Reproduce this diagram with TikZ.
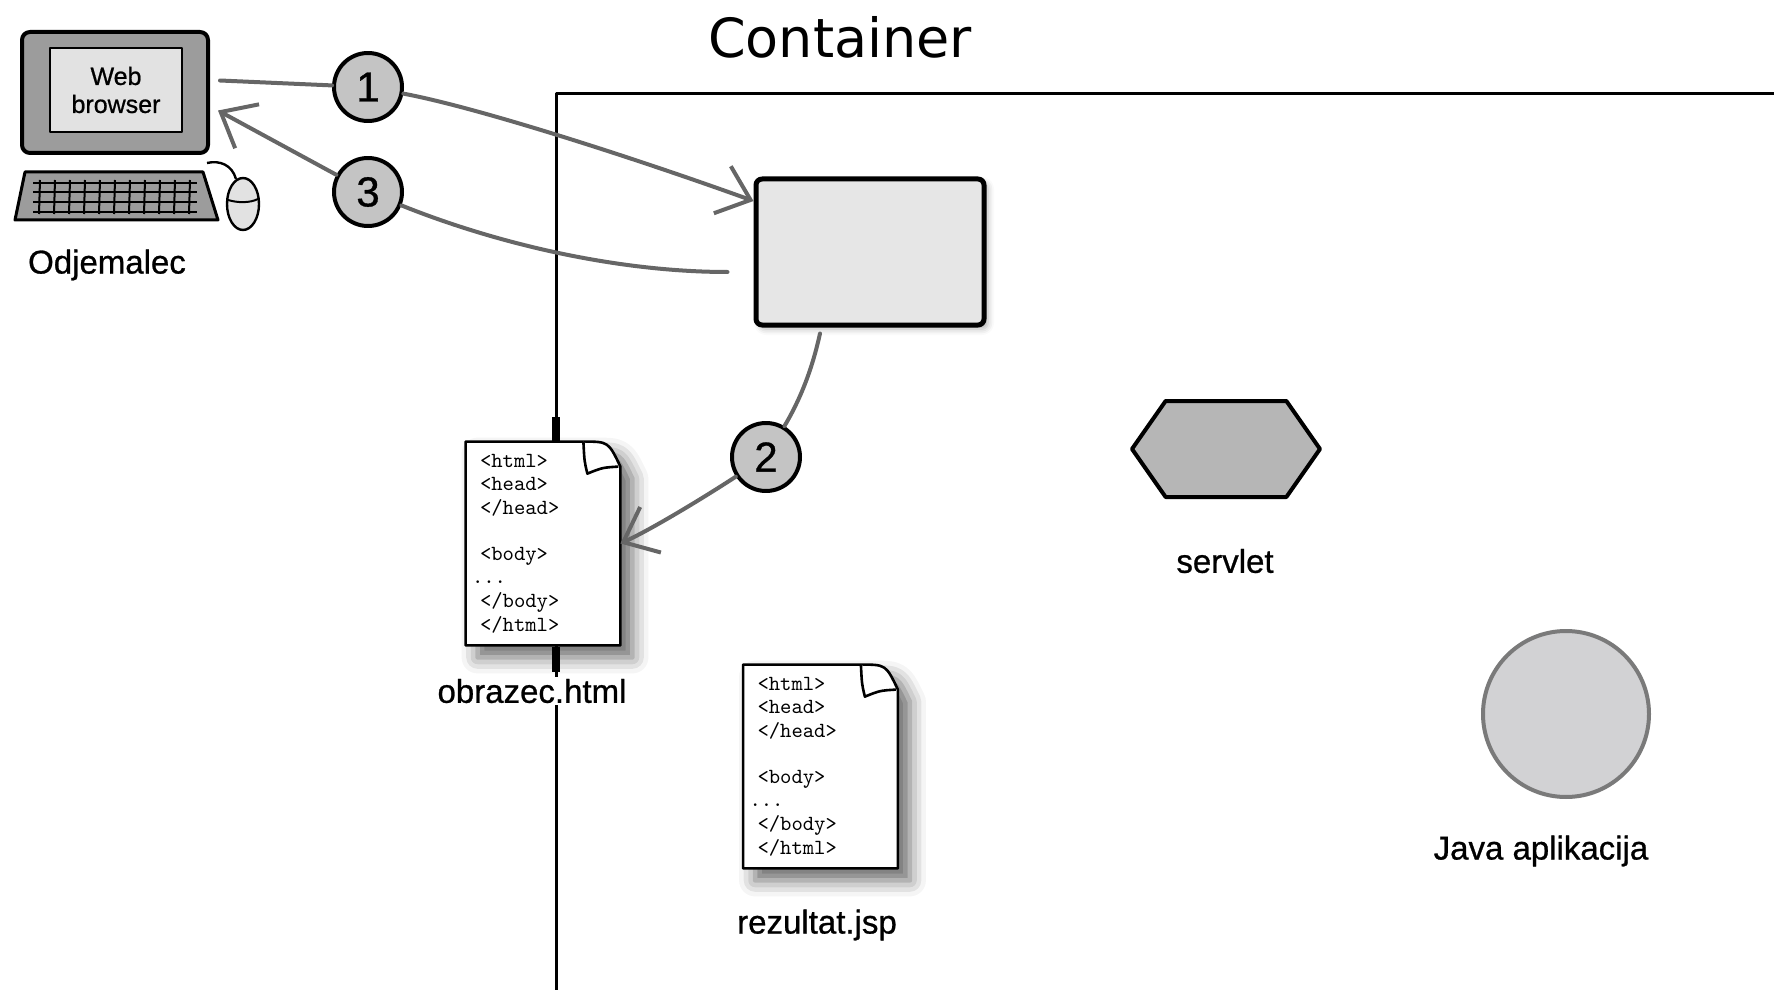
\documentclass[tikz,border=0pt]{standalone}
\usepackage{fontspec}
\setmainfont{Liberation Sans}[FakeBold=0.8]
\newfontfamily\titlefont{DejaVu Sans}
\usetikzlibrary{arrows.meta,shapes.symbols,shadows.blur}

\definecolor{linegray}{HTML}{666666}
\definecolor{framegray}{HTML}{9C9C9C}
\definecolor{screengray}{HTML}{E2E2E2}
\definecolor{numgray}{HTML}{C4C4C4}
\definecolor{boxgray}{HTML}{E6E6E6}
\definecolor{servgray}{HTML}{B6B6B6}
\definecolor{javagray}{HTML}{D2D2D4}
\definecolor{javaedge}{HTML}{7A7A7A}

\tikzset{
  conn/.style={draw=linegray, line width=2pt, line cap=round},
  tip/.style={-{Straight Barb[length=15pt,width=25pt]}},
  num/.style={circle, draw, line width=2pt, fill=numgray, minimum size=34pt, inner sep=0pt, font=\fontsize{21}{21}\selectfont},
  lbl/.style={fill=white, inner sep=1pt, font=\fontsize{16.5}{19}\selectfont},
  docshape/.style={minimum width=77pt, minimum height=101.5pt, inner sep=0pt},
  doctext/.style={text width=63pt, inner xsep=7pt, inner ysep=0pt, align=left, font=\ttfamily\fontsize{10.8}{11.85}\selectfont},
  docline/.style={draw, line width=1.3pt, fill=white},
  softshadow/.style={blur shadow={shadow xshift=6pt, shadow yshift=-6pt, shadow blur radius=8pt, shadow opacity=60}}
}

\newcommand{\htmllines}{<html>\\<head>\\</head>\\[11pt]<body>\\\hspace*{-4pt}...\\</body>\\</html>}

\begin{document}
\begin{tikzpicture}[x=0.5pt, y=-0.5pt, line join=round]
\useasboundingbox (0,0) rectangle (1774,990);

% container border
\draw[line width=1.5pt] (1774,94) -- (556,94) -- (556,990);
\draw[line width=4pt] (556,417) -- (556,442) (556,647) -- (556,672);
\node[font=\titlefont\fontsize{27}{30}\selectfont] (title) at (840,37) {Container};

% client computer
\node[draw, line width=2pt, fill=framegray, rounded corners=4pt, minimum width=93pt, minimum height=60.5pt] (mon) at (115,92.5) {};
\node[draw, line width=1pt, fill=screengray, minimum width=66pt, minimum height=42pt, inner sep=0pt, align=center, font=\fontsize{12.5}{14}\selectfont] (scr) at (116,90) {Web\\browser};
\draw[line width=1.5pt, fill=framegray] (25,172) -- (203,172) -- (218,220) -- (15,220) -- cycle;
\foreach \ky in {183,192,202,212}
  \draw[line width=1pt] (33,\ky) -- (197,\ky);
\foreach \kx in {40,55,...,190}
  \draw[line width=1pt] (\kx,180) -- (\kx-1,214);
\draw[line width=1.2pt] (236,179) .. controls (232,165) and (220,160) .. (207,163);
\draw[line width=1.2pt, fill=screengray] (243,204) ellipse [x radius=16, y radius=26];
\draw[line width=1pt] (228,200) .. controls (238,203) and (250,203) .. (258,199);
\node[lbl] (client) at (107,265) {Odjemalec};

% steps
\node[num] (c1) at (368,87) {1};
\node[num] (c3) at (368,192) {3};
\node[num] (c2) at (766,457) {2};

% web container box
\node[draw, line width=2.5pt, fill=boxgray, rounded corners=3pt, minimum width=114pt, minimum height=73pt,
  blur shadow={shadow xshift=2pt, shadow yshift=-2pt, shadow blur radius=3pt, shadow opacity=30}] (box) at (870,252) {};

% html pages
\foreach \n/\cx/\cy/\name/\lx/\ly in {html/543/543.5/obrazec.html/532/691, jsp/820.5/766.5/rezultat.jsp/817/925} {
  \node[docshape] (\n) at (\cx,\cy) {};
  \draw[docline, softshadow] (\n.north west) -- ([xshift=-18.5pt]\n.north east)
    .. controls ([xshift=-6pt]\n.north east) .. ([yshift=-12.5pt]\n.north east)
    -- (\n.south east) -- (\n.south west) -- cycle;
  \draw[line width=1.3pt, fill=white] ([xshift=-18.5pt]\n.north east)
    .. controls ([xshift=-18pt,yshift=-10pt]\n.north east) .. ([xshift=-16.5pt,yshift=-16pt]\n.north east)
    .. controls ([xshift=-9pt,yshift=-13pt]\n.north east) .. ([xshift=-1pt,yshift=-12.5pt]\n.north east);
  \node[doctext] (\n txt) at (\cx,\cy) {\htmllines};
  \node[lbl] (\n lbl) at (\lx,\ly) {\name};
}

% servlet and java application
\node[signal, signal to=west and east, signal pointer angle=110, draw, line width=2pt, fill=servgray,
  minimum width=94pt, minimum height=48pt] (servlet) at (1226,449) {};
\node[lbl] (servlet lbl) at (1225,561) {servlet};
\node[circle, draw=javaedge, line width=2pt, fill=javagray, minimum size=83pt] (java) at (1566,714) {};
\node[lbl] (java lbl) at (1541,851) {Java aplikacija};

% request / response
\draw[conn] ([xshift=5pt,yshift=6pt]mon.east) -- (c1);
\draw[conn, tip] (c1) .. controls (480,108) and (640,160) .. ([yshift=25.5pt]box.west);
\draw[conn] ([xshift=-25pt,yshift=-3pt]box.south) .. controls (812,370) and (800,400) .. (c2);
\draw[conn, tip] (c2) .. controls (700,500) and (650,530) .. (html.east);
\draw[conn] ([xshift=-13pt,yshift=-10pt]box.west) .. controls (620,272) and (500,245) .. (c3);
\draw[conn, tip] (c3) -- ([xshift=4pt,yshift=-9pt]mon.east);
\end{tikzpicture}
\end{document}
